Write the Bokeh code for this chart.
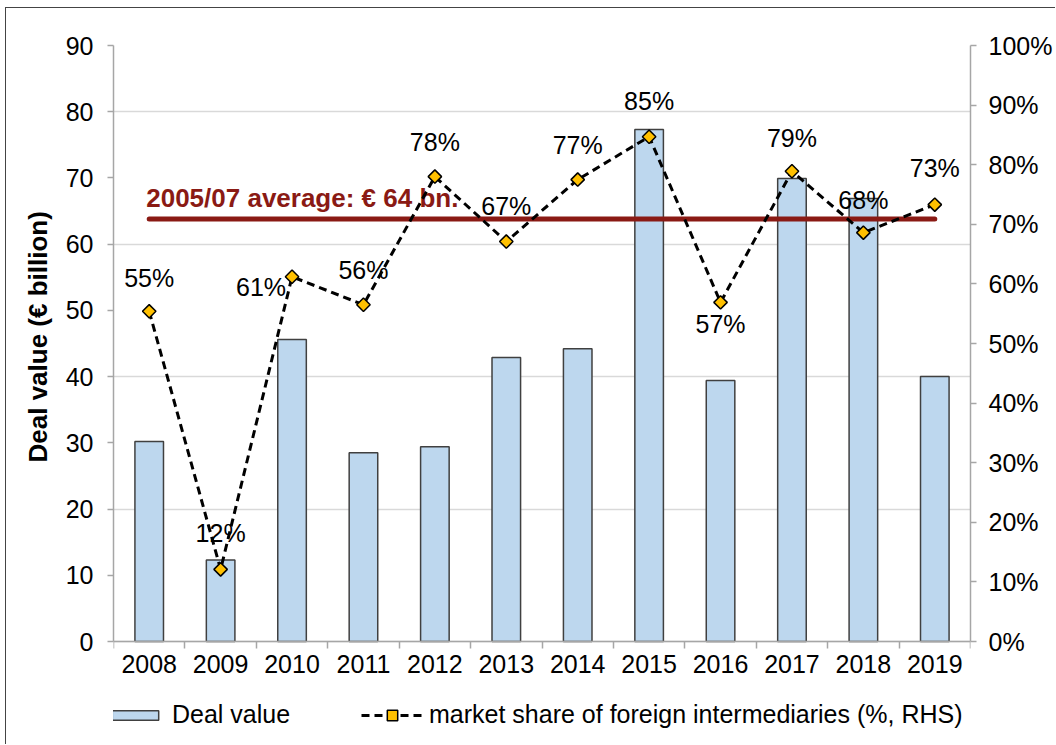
import math
from bokeh.plotting import figure
from bokeh.models import (ColumnDataSource, Range1d, LinearAxis, FixedTicker, Legend,
                          LegendItem, LabelSet, Label, PrintfTickFormatter, Title)
from bokeh.core.properties import value
from bokeh.embed import file_html
from bokeh.resources import INLINE

# ---------------- data ----------------
years = ["2008", "2009", "2010", "2011", "2012", "2013",
         "2014", "2015", "2016", "2017", "2018", "2019"]
deal_value = [30.2, 12.3, 45.6, 28.5, 29.4, 42.9, 44.2, 77.3, 39.4, 69.9, 66.9, 40.0]
foreign_share = [55.4, 12.1, 61.2, 56.5, 78.0, 67.1, 77.5, 84.7, 56.9, 78.9, 68.6, 73.3]
share_labels = ["55%", "12%", "61%", "56%", "78%", "67%",
                "77%", "85%", "57%", "79%", "68%", "73%"]
avg_2005_07 = 63.8
avg_label = "2005/07 average: € 64 bn."
y_title = "Deal value (€ billion)"
left_max = 90
right_max = 100
left_ticks = list(range(0, left_max + 1, 10))
right_ticks = list(range(0, right_max + 1, 10))

# label placement (screen px) relative to each marker
label_dx = [0, 0, -31, 0, 0, 0, 0, 0, 0, 0, 0, 0]
label_dy = [24, 27, -19, 26, 26, 27, 26, 27, -31, 24, 24, 28]

# ---------------- layout (canvas pixels) ----------------
W, H = 1050, 737
F_LEFT, F_RIGHT, F_TOP = 107, 964, 37      # plot frame
ZERO_Y = 633                               # pixel row of value 0 (x axis)
F_BOTTOM = H                               # frame extended down to hold the legend
TITLE_START = 454                          # pixel row where the rotated y title begins
FONT = "Liberation Sans"
GRAY = "#A6A6A6"

y_min = -left_max * (F_BOTTOM - ZERO_Y) / (ZERO_Y - F_TOP)
pct_min = y_min * right_max / left_max

idx = list(range(len(years)))
src = ColumnDataSource(dict(x=idx, deal=deal_value, share=foreign_share,
                            lab=share_labels, dx=label_dx, dy=label_dy))

p = figure(width=W, height=H,
           x_range=Range1d(-0.5, len(years) - 0.5), y_range=Range1d(y_min, left_max),
           output_backend="svg", toolbar_location=None, x_axis_location=None,
           y_axis_location=None,
           min_border_left=F_LEFT, min_border_right=W - F_RIGHT,
           min_border_top=F_TOP, min_border_bottom=H - F_BOTTOM)
p.styles = {"margin-left": "5px", "margin-top": "7px",
            "border-left": "1px solid #444444", "border-top": "1px solid #444444"}
p.outline_line_color = None
p.background_fill_color = "white"
p.border_fill_color = "white"
p.extra_y_ranges = {"pct": Range1d(pct_min, right_max)}

# axes
xa = LinearAxis(fixed_location=0, bounds=(-0.5, len(years) - 0.5),
                ticker=FixedTicker(ticks=idx,
                                   minor_ticks=[i - 0.5 for i in range(len(years) + 1)]))
xa.major_label_overrides = {i: y for i, y in zip(idx, years)}
xa.major_tick_out = 0
xa.major_tick_in = 0
xa.minor_tick_out = 7
xa.minor_tick_in = 0
xa.minor_tick_line_color = GRAY
xa.minor_tick_line_width = 1.5
xa.major_label_standoff = 6
p.add_layout(xa, "below")

ya = LinearAxis(bounds=(0, left_max), ticker=FixedTicker(ticks=left_ticks))
ya.major_label_standoff = 14
p.add_layout(ya, "left")

ra = LinearAxis(y_range_name="pct", bounds=(0, right_max),
                ticker=FixedTicker(ticks=right_ticks),
                formatter=PrintfTickFormatter(format="%d%%"))
ra.major_label_standoff = 12
p.add_layout(ra, "right")

for ax in (xa, ya, ra):
    ax.axis_line_color = GRAY
    ax.axis_line_width = 1.5
    ax.major_tick_line_color = GRAY
    ax.major_tick_line_width = 1.5
    ax.major_label_text_font = FONT
    ax.major_label_text_font_size = "25px"
    ax.major_label_text_color = "black"
for ax in (ya, ra):
    ax.major_tick_out = 6
    ax.major_tick_in = 0
    ax.minor_tick_out = 0
    ax.minor_tick_in = 0

# left axis title, placed along the 0-90 scale rather than the extended frame
p.add_layout(Title(text=y_title, align="left", offset=F_BOTTOM - TITLE_START, standoff=20,
                   text_font=FONT, text_font_size="26px", text_font_style="bold",
                   text_color="black"), "left")

# grid
p.xgrid.visible = False
p.ygrid.grid_line_color = "#D9D9D9"
p.ygrid.grid_line_width = 1.5

# bars
bars = p.vbar(x="x", top="deal", width=0.40, source=src,
              fill_color="#BDD7EE", line_color="#404040", line_width=1.5)

# average line + label (label under the dashed line)
p.line(x=[idx[0], idx[-1]], y=[avg_2005_07, avg_2005_07],
       line_color="#8A1A14", line_width=5, line_cap="round")
p.add_layout(Label(x=idx[0], y=avg_2005_07, text=avg_label, x_offset=-3, y_offset=21,
                   text_font=FONT, text_font_size="26px", text_font_style="bold",
                   text_color="#8A1A14", text_baseline="middle", level="underlay"))

# share line + markers
dash = p.line(x="x", y="share", source=src, y_range_name="pct",
              line_color="black", line_width=3, line_dash="8 5")
marks = p.scatter(x="x", y="share", source=src, y_range_name="pct",
                  marker="square", angle=math.pi / 4, size=9.5,
                  fill_color="#FFC000", line_color="black", line_width=1.5)

p.add_layout(LabelSet(x="x", y="share", text="lab", source=src, y_range_name="pct",
                      x_offset="dx", y_offset="dy", text_align="center",
                      text_baseline="alphabetic", text_font=value(FONT),
                      text_font_size="25px", text_color="black"))

# legends (inside the extended frame, below the x axis)
common = dict(orientation="horizontal", padding=0, margin=0, border_line_color=None,
              background_fill_alpha=0, label_text_font=FONT,
              label_text_font_size="25px", label_text_color="black")
leg1 = Legend(items=[LegendItem(label="Deal value", renderers=[bars])],
              location=(-7, 16), glyph_width=58, glyph_height=12,
              label_standoff=8, **common)
leg2 = Legend(items=[LegendItem(label="market share of foreign intermediaries (%, RHS)",
                                renderers=[dash, marks])],
              location=(248, 16), glyph_width=62, glyph_height=26,
              label_standoff=6, **common)
p.add_layout(leg1, "center")
p.add_layout(leg2, "center")

open("out.html", "w").write(file_html(p, INLINE))
